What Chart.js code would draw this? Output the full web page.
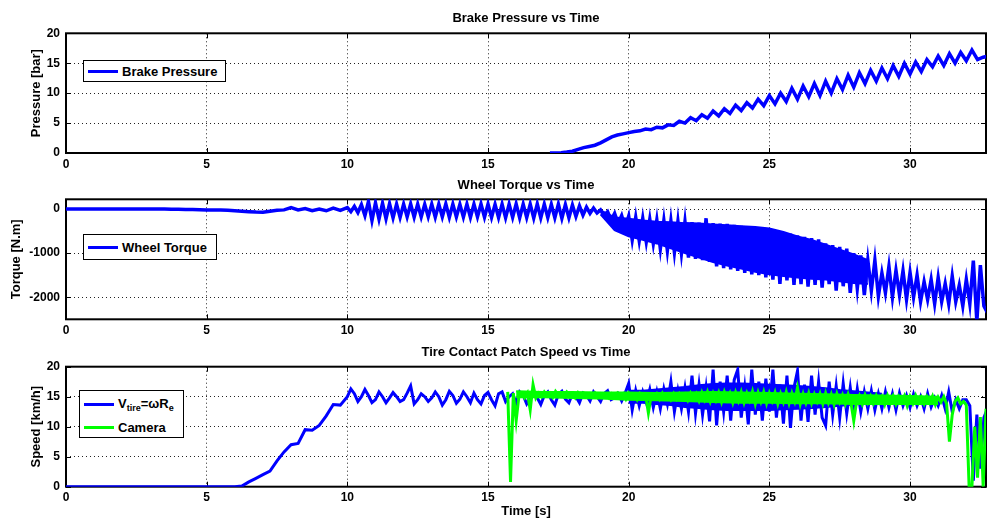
<!DOCTYPE html>
<html>
<head>
<meta charset="utf-8">
<script src="https://cdn.jsdelivr.net/npm/chart.js@4.4.0/dist/chart.umd.min.js"></script>
<style>
  body { margin: 0; background: #fff; }
  #wrap { position: relative; width: 987px; height: 520px; font-family: "Liberation Sans", Arial, sans-serif; }
  canvas { position: absolute; left: 0; }
  .legend { position: absolute; box-sizing: border-box; background: #fff; border: 1.5px solid #000;
            font-weight: bold; font-size: 13px; color: #000; }
  .legend .row { position: absolute; left: 4px; display: flex; align-items: center; height: 20px; white-space: nowrap; }
  .legend .swatch { width: 30px; height: 3px; margin-right: 4px; }
  .legend sub { font-size: 9px; vertical-align: -3px; }
</style>
</head>
<body>
<div id="wrap">
  <canvas id="pressureChart" width="987" height="170" style="top:0"></canvas>
  <canvas id="torqueChart" width="987" height="170" style="top:170px"></canvas>
  <canvas id="speedChart" width="987" height="180" style="top:340px"></canvas>

  <div class="legend" style="left:83px; top:60px; width:143px; height:22px;">
    <div class="row" style="top:0px"><span class="swatch" style="background:#0000ff"></span><span id="lgPressure"></span></div>
  </div>
  <div class="legend" style="left:83px; top:234px; width:134px; height:26px;">
    <div class="row" style="top:2px"><span class="swatch" style="background:#0000ff"></span><span id="lgTorque"></span></div>
  </div>
  <div class="legend" style="left:79px; top:390px; width:105px; height:48px;">
    <div class="row" style="top:3px"><span class="swatch" style="background:#0000ff"></span><span>V<sub>tire</sub>=&omega;R<sub>e</sub></span></div>
    <div class="row" style="top:26px"><span class="swatch" style="background:#00ff00"></span><span id="lgCamera"></span></div>
  </div>
</div>
<script>
const TIME_MAX = 32.7;
const FONT = '"Liberation Sans", Arial, sans-serif';

const timeTicks = [0, 5, 10, 15, 20, 25, 30];
const pressureTicks = [0, 5, 10, 15, 20];
const torqueTicks = [-2000, -1000, 0];
const speedTicks = [0, 5, 10, 15, 20];

// Brake pressure [bar], one sample every 0.2 s starting at 17.2 s
const pressureStart = 17.2, pressureStep = 0.2;
const pressure = [
  0, 0, 0.05, 0.15, 0.3, 0.6, 0.9, 1.1, 1.3, 1.7,
  2.2, 2.7, 3.0, 3.2, 3.4, 3.6, 3.7, 4.0, 3.9, 4.3,
  4.2, 4.7, 4.6, 5.3, 5.0, 5.9, 5.4, 6.4, 5.8, 7.0,
  6.2, 7.4, 6.6, 8.0, 7.1, 8.4, 7.5, 9.0, 7.9, 9.6,
  8.2, 10.0, 8.6, 10.8, 9.0, 11.2, 9.4, 11.6, 9.6, 12.0,
  10.0, 12.4, 10.6, 13.0, 11.0, 13.4, 11.6, 13.8, 12.0, 14.2,
  12.4, 14.6, 12.8, 15.0, 13.2, 15.2, 13.6, 15.6, 14.4, 16.2,
  14.6, 16.6, 15.0, 16.8, 15.4, 17.2, 15.6, 16.0, 16.2
];

// Wheel torque [N.m]: every 0.25 s from 0 s, then every 0.125 s from 10 s
const torqueEarlyStart = 0, torqueEarlyStep = 0.25;
const torqueEarly = [
  0, 0, 0, 0, 0, 0, 0, 0,
  0, 0, 0, 0, 0, 0, 0, -5,
  -5, -10, -10, -15, -20, -20, -25, -30,
  -40, -50, -60, -70, -75, -50, -30, -20,
  30, -20, 10, -40, 0, -40, 20, -30
];
const torqueLateStart = 10, torqueLateStep = 0.125;
const torqueLate = [
  30, -60, 60, -80, 100, -150, 170, -260,
  140, -230, 130, -220, 120, -200, 110, -190,
  110, -180, 115, -185, 110, -180, 105, -175,
  110, -185, 110, -180, 115, -190, 110, -180,
  105, -185, 110, -190, 110, -180, 115, -185,
  110, -190, 105, -195, 110, -200, 110, -190,
  115, -200, 110, -195, 110, -205, 115, -200,
  110, -195, 105, -200, 110, -210, 100, -200,
  90, -170, 70, -140, 40, -100, 20, -90,
  -20, -150, -60, -250, -100, -330, -150, -420,
  -160, -700, -190, -720, -210, -740, -230, -780,
  -250, -900, -260, -940, -270, -980, -280, -1000,
  -290, -1100, -300, -1130, -310, -1160, -210, -1200,
  -320, -1300, -330, -1340, -340, -1370, -360, -1400,
  -380, -1450, -400, -1480, -420, -1500, -440, -1550,
  -470, -1600, -500, -1700, -530, -1620, -560, -1720,
  -600, -1700, -630, -1760, -660, -1720, -690, -1780,
  -780, -1700, -820, -1850, -860, -1750, -900, -1900,
  -1000, -1800, -1050, -1950, -1160, -1850, -1160, -1980,
  -1450, -1900, -1300, -2000, -1390, -1950, -1400, -2050,
  -1440, -2000, -1500, -2100, -1650, -2050, -1600, -2150,
  -1550, -2100, -1690, -2150, -1520, -2100, -1730, -2200,
  -1600, -2150, -1170, -2550, -1270, -2200, -2350
];
// dense part of the torque trace: top and bottom of the solid band, every 0.5 s from 19 s
const torqueBandStart = 19, torqueBandStep = 0.5;
const torqueBandTop = [
  -30, -190, -220, -260, -290, -300, -320, -330, -350, -370,
  -390, -410, -440, -520, -620, -700, -810, -920, -1030, -1160
];
const torqueBandBottom = [
  -120, -480, -620, -700, -780, -890, -1000, -1100, -1200, -1280,
  -1350, -1420, -1480, -1520, -1550, -1580, -1600, -1640, -1680, -1700
];

// Tire contact patch speed V_tire [km/h]: every 0.25 s from 0 s, then every 0.125 s from 10 s
const speedEarlyStart = 0, speedEarlyStep = 0.25;
const speedEarly = [
  0, 0, 0, 0, 0, 0, 0, 0,
  0, 0, 0, 0, 0, 0, 0, 0,
  0, 0, 0, 0, 0, 0, 0, 0,
  0, 0.1, 0.8, 1.4, 2.0, 2.6, 4.3, 5.8,
  7.0, 7.2, 9.5, 9.4, 10.2, 11.8, 13.7, 13.6
];
const speedLateStart = 10, speedLateStep = 0.125;
const speedLate = [
  15.0, 16.3, 15.5, 14.2, 15.0, 16.2, 15.2, 14.0,
  14.5, 15.8, 15.0, 14.0, 14.8, 15.7, 15.0, 14.2,
  14.5, 15.6, 16.8, 13.8, 14.5, 15.5, 15.0, 14.2,
  14.8, 15.8, 15.0, 13.6, 14.5, 15.9, 15.2, 13.9,
  14.6, 15.8, 15.0, 14.0, 15.6, 14.5, 13.8, 15.2,
  15.7, 14.5, 13.5, 15.5, 15.8, 14.2, 15.0, 15.5,
  14.0, 15.8, 15.2, 13.8, 14.8, 15.6, 14.8, 13.7,
  15.2, 15.8, 14.5, 13.6, 15.4, 15.9, 14.6, 14.0,
  15.5, 15.0, 14.0, 15.6, 15.2, 14.3, 15.8, 15.0,
  14.2, 15.5, 16.0, 14.5, 14.8, 15.5, 14.3, 15.6,
  17.2, 12.8, 16.0, 13.5, 15.8, 14.0, 16.2, 13.2,
  15.8, 13.0, 16.3, 13.8, 17.5, 12.5, 16.0, 13.0,
  16.5, 12.5, 18.5, 12.2, 17.0, 12.0, 16.5, 10.9,
  19.5, 10.2, 17.5, 12.5, 18.5, 11.0, 17.8, 19.5,
  11.5, 16.5, 10.4, 19.5, 12.0, 17.5, 11.0, 18.0,
  12.5, 19.5, 11.5, 17.0, 10.5, 18.5, 9.8, 16.5,
  19.3, 11.0, 17.0, 10.8, 18.5, 12.0, 17.5, 11.5,
  10.2, 17.5, 12.0, 16.8, 11.5, 17.2, 12.2, 16.5,
  12.0, 16.3, 12.5, 15.8, 13.0, 16.0, 12.8, 15.5,
  13.0, 15.8, 13.2, 15.5, 12.8, 15.6, 13.5, 15.2,
  13.2, 15.4, 13.5, 15.0, 13.0, 15.5, 13.3, 14.8,
  13.5, 15.2, 13.0, 15.8, 12.5, 14.5, 13.0, 14.5,
  14.5, 13.5, 1.0, 12.0, 3.0, 11.5, 13.0
];
// solid core of the V_tire trace, every 0.5 s from 20 s
const speedBandStart = 20, speedBandStep = 0.5;
const speedBandTop = [
  16.0, 16.0, 16.2, 16.4, 16.6, 16.9, 17.1, 17.2, 17.2, 17.1,
  17.0, 16.9, 16.8, 16.6, 16.4, 16.1, 15.9, 15.7, 15.5
];
const speedBandBottom = [
  14.0, 14.0, 13.8, 13.6, 13.3, 13.1, 12.9, 12.8, 12.8, 12.8,
  12.8, 12.9, 13.0, 13.1, 13.3, 13.5, 13.7, 13.9, 14.0
];

// Camera speed [km/h], every 0.1 s from 15.7 s
const cameraStart = 15.7, cameraStep = 0.1;
const camera = [
  15.8, 0.8, 15.6, 11.0, 15.2, 15.5, 14.8, 15.6, 12.8, 17.0,
  14.8, 15.6, 15.0, 15.8, 15.2, 15.6, 14.9, 15.9, 15.3, 15.6,
  15.0, 15.8, 15.3, 15.5, 14.8, 15.7, 15.2, 15.6, 15.0, 15.5,
  15.2, 15.6, 14.9, 15.5, 15.2, 15.4, 14.8, 15.5, 15.1, 15.6,
  15.0, 15.5, 14.6, 15.6, 15.0, 15.4, 14.5, 15.5, 14.8, 15.3,
  12.3, 15.2, 14.8, 15.5, 14.6, 15.6, 14.9, 15.4, 14.5, 15.5,
  14.6, 15.5, 14.8, 15.4, 14.4, 15.6, 14.7, 15.5, 14.3, 15.7,
  14.5, 15.8, 14.2, 15.6, 14.4, 15.7, 14.1, 15.8, 14.5, 15.6,
  14.0, 15.7, 14.3, 15.8, 14.0, 15.6, 14.4, 15.9, 13.8, 15.7,
  14.2, 15.8, 13.9, 15.6, 14.3, 15.7, 13.8, 15.5, 14.1, 15.8,
  13.9, 15.6, 14.2, 16.5, 13.8, 15.5, 14.0, 15.6, 13.9, 15.4,
  14.2, 15.5, 13.8, 15.6, 14.0, 15.4, 13.7, 15.5, 14.1, 15.3,
  13.8, 15.4, 14.0, 11.0, 14.2, 15.2, 13.8, 15.3, 14.0, 15.1,
  13.9, 15.2, 14.1, 15.0, 13.7, 15.2, 14.0, 15.1, 13.8, 15.0,
  14.1, 15.1, 13.5, 15.0, 13.9, 15.2, 14.0, 14.9, 13.8, 15.0,
  14.0, 15.1, 13.7, 14.9, 14.1, 15.0, 13.8, 7.5, 12.0, 14.2,
  14.8, 13.8, 14.2, 13.6, 0, 0, 10.0, 1.5, 11.6, 0,
  13.0
];
// solid core of the camera trace, every 1 s from 16 s
const cameraBandStart = 16, cameraBandStep = 1;
const cameraBandTop = [15.9, 15.8, 15.8, 15.7, 15.7, 15.6, 15.7, 15.8, 15.7, 15.6, 15.5, 15.4, 15.3, 15.2, 15.1, 15.0];
const cameraBandBottom = [14.9, 14.9, 14.8, 14.7, 14.5, 14.4, 14.3, 14.1, 14.0, 14.0, 13.9, 13.9, 13.8, 13.8, 13.8, 13.8];

const BLUE = '#0000ff';
const GREEN = '#00ff00';

function toPoints(start, step, values) {
  return values.map((v, i) => ({ x: +(start + i * step).toFixed(3), y: v }));
}

function trace(label, color, data, order, width) {
  return { label, data, borderColor: color, borderWidth: width || 3, pointRadius: 0, tension: 0, fill: false, order };
}

// a filled band between two envelope series (drawn as two datasets, the second fills to the first)
function band(start, step, top, bottom, color, order) {
  return [
    { label: '', data: toPoints(start, step, top), borderColor: color, borderWidth: 2, pointRadius: 0, fill: false, order },
    { label: '', data: toPoints(start, step, bottom), borderColor: color, borderWidth: 2, pointRadius: 0,
      fill: '-1', backgroundColor: color, order }
  ];
}

// box round the plot plus short inward ticks, like the original figure
const framePlugin = {
  id: 'frame',
  beforeDatasetsDraw(chart) {
    const { ctx, chartArea: a, scales } = chart;
    ctx.save();
    ctx.strokeStyle = '#000';
    ctx.lineWidth = 1;
    ctx.beginPath();
    scales.x.ticks.forEach(t => {
      const px = Math.round(scales.x.getPixelForValue(t.value)) + 0.5;
      ctx.moveTo(px, a.top); ctx.lineTo(px, a.top + 5);
      ctx.moveTo(px, a.bottom); ctx.lineTo(px, a.bottom - 5);
    });
    scales.y.ticks.forEach(t => {
      const py = Math.round(scales.y.getPixelForValue(t.value)) + 0.5;
      ctx.moveTo(a.left, py); ctx.lineTo(a.left + 5, py);
      ctx.moveTo(a.right, py); ctx.lineTo(a.right - 5, py);
    });
    ctx.stroke();
    ctx.lineWidth = 2;
    ctx.strokeRect(a.left, a.top, a.right - a.left, a.bottom - a.top);
    ctx.restore();
  }
};

function fixedTicks(values) {
  return scale => { scale.ticks = values.map(v => ({ value: v })); };
}

function makeChart(id, opts) {
  const tickFont = { family: FONT, size: 12, weight: 'bold' };
  const titleFont = { family: FONT, size: 13, weight: 'bold' };
  return new Chart(document.getElementById(id), {
    type: 'line',
    data: { datasets: opts.datasets },
    options: {
      responsive: false,
      animation: false,
      devicePixelRatio: 1,
      layout: { padding: { left: 0, right: 1, top: 0, bottom: 0 } },
      plugins: {
        legend: { display: false },
        tooltip: { enabled: false },
        title: {
          display: true,
          text: opts.title,
          color: '#000',
          fullSize: false,
          font: titleFont,
          padding: opts.titlePadding
        }
      },
      scales: {
        x: {
          type: 'linear',
          min: 0,
          max: TIME_MAX,
          afterFit: s => { s.height = opts.xHeight; },
          afterBuildTicks: fixedTicks(timeTicks),
          ticks: { color: '#000', font: tickFont, padding: 4, maxRotation: 0, callback: v => String(v) },
          grid: { color: '#222', lineWidth: 1, drawTicks: false },
          border: { display: false, dash: [1, 3] },
          title: opts.xTitle ? { display: true, text: opts.xTitle, color: '#000', font: titleFont, padding: { top: 0, bottom: 1 } } : { display: false }
        },
        y: {
          min: opts.yMin,
          max: opts.yMax,
          afterFit: s => { s.width = 66; },
          afterBuildTicks: fixedTicks(opts.yTicks),
          ticks: { color: '#000', font: tickFont, padding: 6, callback: v => String(v) },
          grid: { color: '#222', lineWidth: 1, drawTicks: false },
          border: { display: false, dash: [1, 3] },
          title: { display: true, text: opts.yTitle, color: '#000', font: titleFont, padding: { top: opts.yTitlePad, bottom: 0 } }
        }
      }
    },
    plugins: [framePlugin]
  });
}

const pressureChart = makeChart('pressureChart', {
  title: 'Brake Pressure vs Time',
  titlePadding: { top: 11, bottom: 6.7 },
  xHeight: 17,
  yMin: 0, yMax: 20, yTicks: pressureTicks,
  yTitle: 'Pressure [bar]', yTitlePad: 29,
  datasets: [trace('Brake Pressure', BLUE, toPoints(pressureStart, pressureStep, pressure), 1, 3.5)]
});

const torqueChart = makeChart('torqueChart', {
  title: 'Wheel Torque vs Time',
  titlePadding: { top: 7.2, bottom: 6.5 },
  xHeight: 20.7,
  yMin: -2500, yMax: 220, yTicks: torqueTicks,
  yTitle: 'Torque [N.m]', yTitlePad: 9,
  datasets: [
    trace('Wheel Torque', BLUE,
      toPoints(torqueEarlyStart, torqueEarlyStep, torqueEarly).concat(toPoints(torqueLateStart, torqueLateStep, torqueLate)), 1, 3.5),
    ...band(torqueBandStart, torqueBandStep, torqueBandTop, torqueBandBottom, BLUE, 2)
  ]
});

const speedChart = makeChart('speedChart', {
  title: 'Tire Contact Patch Speed vs Time',
  titlePadding: { top: 4.9, bottom: 6.2 },
  xHeight: 33.3,
  xTitle: 'Time [s]',
  yMin: 0, yMax: 20, yTicks: speedTicks,
  yTitle: 'Speed [km/h]', yTitlePad: 29,
  datasets: [
    trace('V_tire=\u03c9R_e', BLUE,
      toPoints(speedEarlyStart, speedEarlyStep, speedEarly).concat(toPoints(speedLateStart, speedLateStep, speedLate)), 4),
    trace('Camera', GREEN, toPoints(cameraStart, cameraStep, camera), 1),
    ...band(speedBandStart, speedBandStep, speedBandTop, speedBandBottom, BLUE, 5),
    ...band(cameraBandStart, cameraBandStep, cameraBandTop, cameraBandBottom, GREEN, 2)
  ]
});

document.getElementById('lgPressure').textContent = pressureChart.data.datasets[0].label;
document.getElementById('lgTorque').textContent = torqueChart.data.datasets[0].label;
document.getElementById('lgCamera').textContent = speedChart.data.datasets[1].label;
</script>
</body>
</html>
